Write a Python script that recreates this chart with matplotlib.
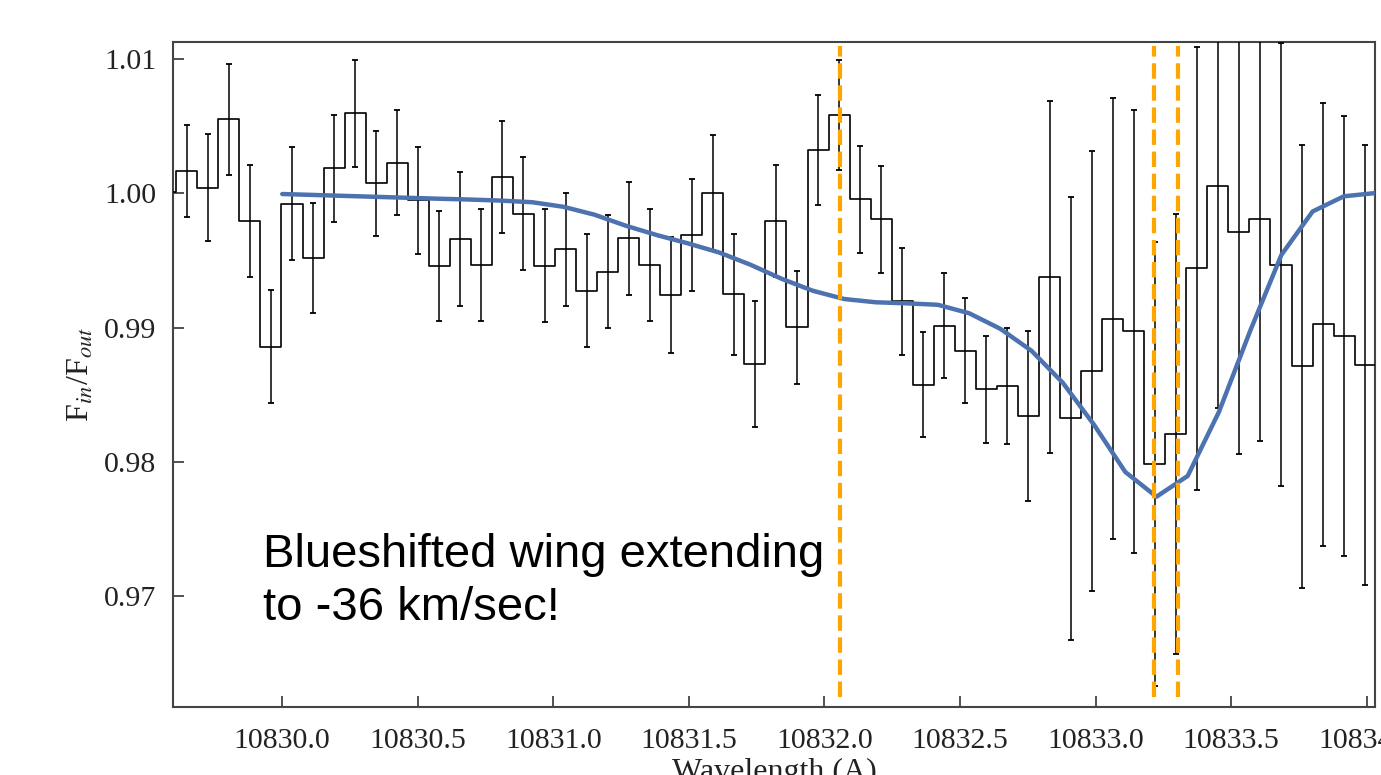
import matplotlib
matplotlib.use("Agg")
import matplotlib.pyplot as plt
import numpy as np

# ---- data: binned in-/out-of-transit flux ratio ----
bin_wavelength = [
    10829.5703, 10829.6479, 10829.7255, 10829.8032, 10829.8808, 10829.9584,
    10830.0360, 10830.1136, 10830.1913, 10830.2689, 10830.3465, 10830.4241,
    10830.5017, 10830.5794, 10830.6570, 10830.7346, 10830.8122, 10830.8898,
    10830.9675, 10831.0451, 10831.1227, 10831.2003, 10831.2779, 10831.3556,
    10831.4332, 10831.5108, 10831.5884, 10831.6660, 10831.7437, 10831.8213,
    10831.8989, 10831.9765, 10832.0541, 10832.1318, 10832.2094, 10832.2870,
    10832.3646, 10832.4422, 10832.5199, 10832.5975, 10832.6751, 10832.7527,
    10832.8303, 10832.9080, 10832.9856, 10833.0632, 10833.1408, 10833.2184,
    10833.2961, 10833.3737, 10833.4513, 10833.5289, 10833.6065, 10833.6842,
    10833.7618, 10833.8394, 10833.9170, 10833.9946, 10834.0723,
]
flux_ratio = [
    1.0001, 1.00166, 1.00042, 1.0055, 0.99794, 0.98857,
    0.99923, 0.99519, 1.00186, 1.00595, 1.00074, 1.00228,
    0.99948, 0.99460, 0.99658, 0.99467, 1.00121, 0.99849,
    0.99460, 0.99584, 0.99274, 0.99418, 0.99665, 0.99467,
    0.99244, 0.99690, 1.00005, 0.99249, 0.98729, 0.99794,
    0.99001, 1.00320, 1.00582, 0.99955, 0.99807, 0.99195,
    0.98575, 0.99014, 0.98828, 0.98541, 0.98565, 0.98342,
    0.99379, 0.98325, 0.98679, 0.99068, 0.98972, 0.97985,
    0.98208, 0.99442, 1.00054, 0.99712, 0.99807, 0.99467,
    0.98711, 0.99026, 0.98939, 0.98721, 0.98845,
]
flux_error = [
    0.0040, 0.0034, 0.0040, 0.0041, 0.0042, 0.0042,
    0.0042, 0.0041, 0.0040, 0.0040, 0.0039, 0.0039,
    0.0040, 0.0041, 0.0050, 0.0042, 0.0042, 0.0042,
    0.0042, 0.0042, 0.0042, 0.0042, 0.0042, 0.0042,
    0.0043, 0.0042, 0.0043, 0.0045, 0.0047, 0.0042,
    0.0042, 0.0041, 0.0041, 0.0040, 0.0040, 0.0040,
    0.0039, 0.0039, 0.0039, 0.0040, 0.0043, 0.0063,
    0.0131, 0.0165, 0.0164, 0.0164, 0.0165, 0.0165,
    0.0164, 0.0165, 0.0165, 0.0165, 0.0165, 0.0165,
    0.0165, 0.0165, 0.0164, 0.0164, 0.0164,
]

# ---- data: model absorption profile ----
model_wavelength = [
    10830.0000, 10830.1152, 10830.2304, 10830.3455, 10830.4607, 10830.5759,
    10830.6911, 10830.8063, 10830.9214, 10831.0366, 10831.1518, 10831.2670,
    10831.3822, 10831.4973, 10831.6125, 10831.7277, 10831.8429, 10831.9581,
    10832.0732, 10832.1884, 10832.3036, 10832.4188, 10832.5340, 10832.6491,
    10832.7643, 10832.8795, 10832.9947, 10833.1099, 10833.2250, 10833.3402,
    10833.4554, 10833.5706, 10833.6858, 10833.8009, 10833.9161, 10834.0313,
]
model_flux = [
    0.99995, 0.99988, 0.99981, 0.99974, 0.99967, 0.99960,
    0.99954, 0.99946, 0.99934, 0.99900, 0.99841, 0.99759,
    0.99689, 0.99627, 0.99559, 0.99468, 0.99363, 0.99274,
    0.99213, 0.99189, 0.99181, 0.99170, 0.99107, 0.98991,
    0.98827, 0.98589, 0.98276, 0.97925, 0.97741, 0.97896,
    0.98373, 0.98976, 0.99542, 0.99865, 0.99978, 1.00002,
]

# He I triplet line centres
line_centres = [10832.057, 10833.217, 10833.306]

xtick_values = [10830.0, 10830.5, 10831.0, 10831.5, 10832.0, 10832.5, 10833.0, 10833.5, 10834.0]
ytick_values = [0.97, 0.98, 0.99, 1.00, 1.01]

annotation = "Blueshifted wing extending\nto -36 km/sec!"

# ---- style ----
plt.rcParams["font.family"] = ["Liberation Serif", "DejaVu Serif"]
plt.rcParams["mathtext.fontset"] = "stix"

fig = plt.figure(figsize=(13.81, 7.75), dpi=100)
ax = fig.add_axes([173 / 1381, 1 - 707 / 775, (1375 - 173) / 1381, (707 - 42) / 775])

ax.step(bin_wavelength, flux_ratio, where="mid", color="black", lw=1.2, zorder=3)
ax.errorbar(bin_wavelength, flux_ratio, yerr=flux_error, fmt="none",
            ecolor="black", elinewidth=1.1, capsize=2.0, capthick=1.3, zorder=3)

ax.plot(model_wavelength, model_flux, color="#4C72B0", lw=3.2, zorder=4,
        solid_capstyle="round")

ax.vlines(line_centres, 0.9625, 1.011, colors="orange", linestyles="--",
          lw=3.0, zorder=5)

# baseline of the last line of the annotation
ax.text(10829.9277, 0.96823, annotation, family=["Liberation Sans", "DejaVu Sans"],
        fontsize=34, va="baseline", ha="left", color="black", zorder=6,
        linespacing=1.25)

ax.set_xlim(10829.597, 10834.031)
ax.set_ylim(0.96175, 1.01127)
ax.set_xticks(xtick_values)
ax.set_xticklabels([f"{v:.1f}" for v in xtick_values])
ax.set_yticks(ytick_values)
ax.set_yticklabels([f"{v:.2f}" for v in ytick_values])

spine_color = "#444444"
for s in ax.spines.values():
    s.set_color(spine_color)
    s.set_linewidth(1.5)
ax.tick_params(axis="both", direction="in", length=8, width=1.3,
               color=spine_color, labelsize=21.5, labelcolor="#222222")
ax.tick_params(axis="x", pad=15)
ax.tick_params(axis="y", pad=12)

ax.set_xlabel("Wavelength (A)", fontsize=23, labelpad=3, color="#222222")
ax.set_ylabel(r"F$_{in}$/F$_{out}$", fontsize=23, labelpad=6, color="#222222")

fig.savefig("out.png", dpi=100, facecolor="white")
